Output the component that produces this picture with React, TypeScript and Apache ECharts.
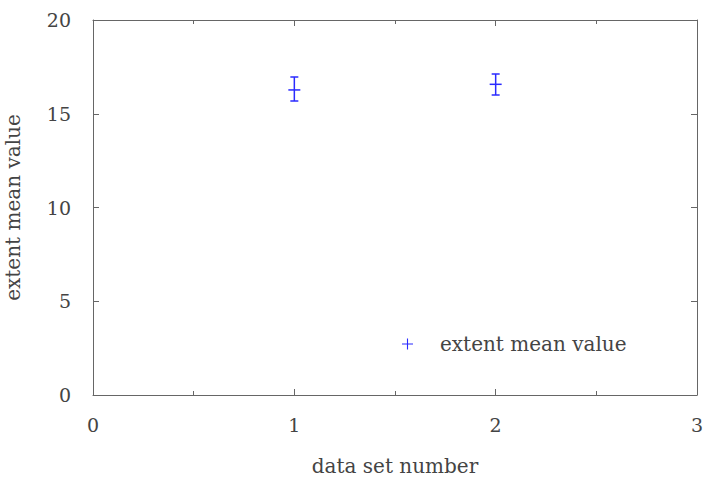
import React, { useEffect, useRef } from "react";
import * as echarts from "echarts";

const xValues = [1, 2];
const meanValues = [16.27, 16.57];
const lowValues = [15.68, 16.0];
const highValues = [16.96, 17.12];
const seriesName = "extent mean value";
const xTitle = "data set number";
const yTitle = "extent mean value";

const FONT = "DejaVu Serif";
const BLUE = "#2a2aff";
const FRAME = "#666666";
const TEXT = "#444444";

export default function App() {
  const ref = useRef<HTMLDivElement>(null);
  useEffect(() => {
    const chart = echarts.init(ref.current!, null, { renderer: "svg" });
    const data = xValues.map((x, i) => [x, meanValues[i], lowValues[i], highValues[i]]);
    const tickStyle = { color: FRAME, width: 1 };
    chart.setOption({
      animation: false,
      backgroundColor: "#ffffff",
      textStyle: { fontFamily: FONT },
      grid: { left: 93, right: 8, top: 20, bottom: 84, show: false, containLabel: false, outerBoundsMode: "none" },
      legend: {
        show: true,
        left: 397,
        top: 329,
        itemWidth: 11,
        itemHeight: 11,
        itemGap: 10,
        icon: "path://M4.5,0 H5.5 V4.5 H10 V5.5 H5.5 V10 H4.5 V5.5 H0 V4.5 H4.5 Z",
        textStyle: { fontFamily: FONT, fontSize: 20, color: TEXT, padding: [0, 0, 0, 22] },
        data: [{ name: seriesName, itemStyle: { color: BLUE } }],
      },
      xAxis: [
        {
          type: "value",
          min: 0,
          max: 3,
          interval: 1,
          position: "bottom",
          name: xTitle,
          nameLocation: "middle",
          nameGap: 61,
          nameTextStyle: { fontFamily: FONT, fontSize: 20, color: TEXT },
          axisLine: { show: true, onZero: false, lineStyle: tickStyle },
          axisTick: { show: true, inside: true, length: 6, lineStyle: tickStyle },
          minorTick: { show: true, splitNumber: 2, length: 4, lineStyle: tickStyle },
          splitLine: { show: false },
          axisLabel: { fontFamily: FONT, fontSize: 19, color: TEXT, margin: 20 },
        },
        {
          type: "value",
          min: 0,
          max: 3,
          interval: 1,
          position: "top",
          axisLine: { show: true, onZero: false, lineStyle: tickStyle },
          axisTick: { show: true, inside: true, length: 6, lineStyle: tickStyle },
          minorTick: { show: true, splitNumber: 2, length: 4, lineStyle: tickStyle },
          splitLine: { show: false },
          axisLabel: { show: false },
        },
      ],
      yAxis: [
        {
          type: "value",
          min: 0,
          max: 20,
          interval: 5,
          position: "left",
          name: yTitle,
          nameLocation: "middle",
          nameGap: 70,
          nameTextStyle: { fontFamily: FONT, fontSize: 20, color: TEXT },
          axisLine: { show: true, onZero: false, lineStyle: tickStyle },
          axisTick: { show: true, inside: true, length: 6, lineStyle: tickStyle },
          splitLine: { show: false },
          axisLabel: { fontFamily: FONT, fontSize: 19, color: TEXT, margin: 22 },
        },
        {
          type: "value",
          min: 0,
          max: 20,
          interval: 5,
          position: "right",
          axisLine: { show: true, onZero: false, lineStyle: tickStyle },
          axisTick: { show: true, inside: true, length: 6, lineStyle: tickStyle },
          splitLine: { show: false },
          axisLabel: { show: false },
        },
      ],
      series: [
        {
          name: seriesName,
          type: "custom",
          xAxisIndex: 0,
          yAxisIndex: 0,
          itemStyle: { color: BLUE },
          data,
          encode: { x: 0, y: [1, 2, 3] },
          renderItem: (params: any, api: any) => {
            const x = api.value(0);
            const c = api.coord([x, api.value(1)]);
            const lo = api.coord([x, api.value(2)]);
            const hi = api.coord([x, api.value(3)]);
            const style = { stroke: BLUE, lineWidth: 1.5 };
            const cap = 4;
            const cross = 6;
            return {
              type: "group",
              children: [
                { type: "line", shape: { x1: hi[0], y1: hi[1], x2: lo[0], y2: lo[1] }, style },
                { type: "line", shape: { x1: hi[0] - cap, y1: hi[1], x2: hi[0] + cap, y2: hi[1] }, style },
                { type: "line", shape: { x1: lo[0] - cap, y1: lo[1], x2: lo[0] + cap, y2: lo[1] }, style },
                { type: "line", shape: { x1: c[0] - cross, y1: c[1], x2: c[0] + cross, y2: c[1] }, style },
              ],
            };
          },
        },
      ],
    });
    return () => chart.dispose();
  }, []);
  return (
    <div
      ref={ref}
      style={{ position: "absolute", left: 0, top: 0, width: 705, height: 479 }}
    />
  );
}
